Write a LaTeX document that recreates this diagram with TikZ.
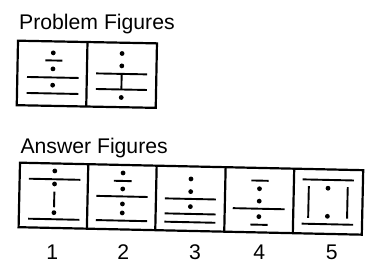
\documentclass[tikz,border=0pt]{standalone}
\usepackage{fontspec}
\setmainfont{Liberation Sans}
\begin{document}
\begin{tikzpicture}[x=1pt,y=-1pt,
  frame/.style={line width=2.2pt},
  stroke/.style={line width=1.9pt},
  fdot/.style={fill=black},
  lbl/.style={font=\fontsize{21.2}{25}\selectfont, inner sep=0pt, anchor=base}]
\useasboundingbox (0,0) rectangle (386,276);
\newcommand\dt[2]{\fill[fdot] (#1,#2) circle[radius=2.4];}
% titles
\node[lbl, anchor=base west] (ptitle) at (19,29.3) {Problem Figures};
\node[lbl, anchor=base west] (atitle) at (20.3,153.3) {Answer Figures};
% problem figures
\begin{scope}[shift={(18,40.7)}, rotate=-1.1]
  \draw[frame] (0,0) rectangle (139,64.5);
  \draw[frame] (69.5,0) -- (69.5,64.5);
  % cell 1
  \dt{35.5}{11.5}
  \draw[stroke] (27.7,19.1) -- (44.7,19.1);
  \dt{35.5}{27.5}
  \draw[stroke] (9.7,36.1) -- (61.3,36.1);
  \dt{35.5}{43.8}
  \draw[stroke] (9.7,52.1) -- (61.3,52.1);
  % cell 2
  \dt{104.3}{10.8}
  \dt{104.3}{23.2}
  \draw[stroke] (78.7,31.2) -- (129.7,31.2);
  \draw[stroke] (104.3,31.2) -- (104.3,46.8);
  \draw[stroke] (78.7,46.8) -- (129.7,46.8);
  \dt{104.3}{54.8}
\end{scope}
% answer figures
\begin{scope}[shift={(20,162.7)}, rotate=-1.25]
  \draw[frame] (0,0) rectangle (343.3,64.5);
  \foreach \xx in {68.3,136.7,205.7,274.3} \draw[frame] (\xx,0) -- (\xx,64.5);
  % cell 1
  \dt{35}{7.5}
  \draw[stroke] (9.3,15.8) -- (60.7,15.8);
  \dt{35}{20.5}
  \draw[stroke] (35,28.2) -- (35,43.8);
  \dt{35}{49.2}
  \draw[stroke] (9.3,55.8) -- (60.7,55.8);
  % cell 2
  \dt{103.3}{8}
  \draw[stroke] (94.3,16) -- (112,16);
  \dt{103.3}{24}
  \draw[stroke] (77,31.5) -- (128.3,31.5);
  \dt{103.3}{39}
  \dt{103.3}{48}
  \draw[stroke] (77,55.7) -- (128.3,55.7);
  % cell 3
  \dt{171.3}{12.5}
  \dt{171.3}{25.2}
  \draw[stroke] (145.7,32.5) -- (196.7,32.5);
  \dt{171.3}{40.2}
  \draw[stroke] (145.7,47.5) -- (196.7,47.5);
  \draw[stroke] (145.7,55.8) -- (196.7,55.8);
  % cell 4
  \draw[stroke] (231.7,12.7) -- (249,12.7);
  \dt{240}{20.8}
  \dt{240}{33.2}
  \draw[stroke] (213.7,40.8) -- (265.5,40.8);
  \dt{240}{48.7}
  \draw[stroke] (231.7,56.8) -- (249,56.8);
  % cell 5
  \draw[stroke] (283,10.5) -- (334.3,10.5);
  \draw[stroke] (289.3,17.2) -- (289.3,48.8);
  \draw[stroke] (328.2,17.2) -- (328.2,48.8);
  \dt{308.5}{18.8}
  \dt{308.5}{46.9}
  \draw[stroke] (283,54.8) -- (334.3,54.8);
\end{scope}
% numbers
\node[lbl] (n1) at (52.3,259.3) {1};
\node[lbl] (n2) at (123.3,259.3) {2};
\node[lbl] (n3) at (195,259.3) {3};
\node[lbl] (n4) at (259.3,259.3) {4};
\node[lbl] (n5) at (331.7,259.3) {5};
\end{tikzpicture}
\end{document}
